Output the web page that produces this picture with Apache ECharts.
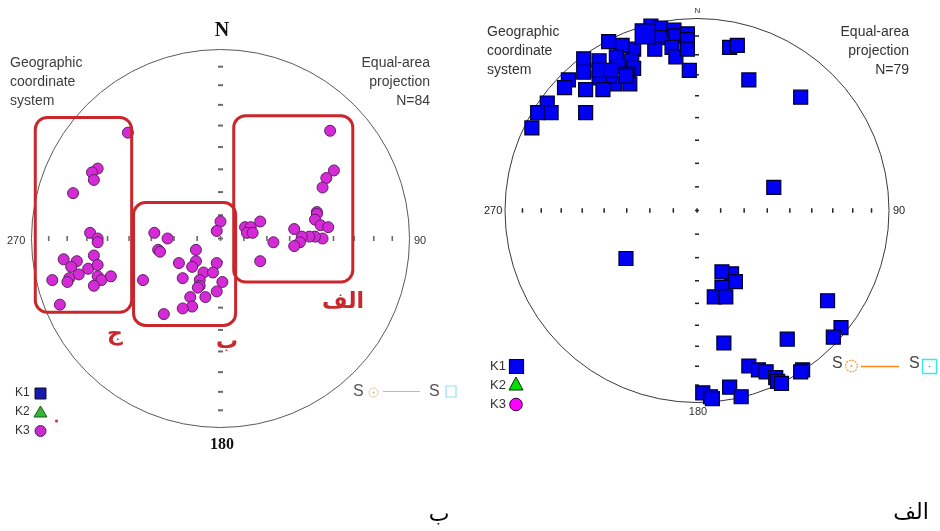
<!DOCTYPE html>
<html>
<head>
<meta charset="utf-8">
<script src="https://cdn.jsdelivr.net/npm/echarts@6/dist/echarts.min.js"></script>
<style>
  html, body { margin: 0; padding: 0; background: #fff; }
  #chart { width: 940px; height: 531px; }
</style>
</head>
<body>
<div id="chart"></div>
<script>
// Stereonet positions: [east, north] in percent of the net radius (equal-area, lower hemisphere)

// Left net, K3 axes, grouped as framed
const k3GroupAlef = [
  [58,57],[60,36],[56,32],[54,27],[51,14],[51,13],[50,10],[53,7],[57,6],[54,0],[50,1],[47,1],
  [43,1],[42,-2],[39,-4],[39,5],[28,-2],[21,9],[13,6],[16,6],[14,3],[17,3],[21,-12]
];
const k3GroupBe = [
  [0,9],[-2,4],[-35,3],[-28,0],[-33,-6],[-32,-7],[-13,-6],[-13,-12],[-22,-13],[-15,-15],[-2,-13],
  [-9,-18],[-4,-18],[-20,-21],[-11,-22],[-11,-25],[-12,-26],[1,-23],[-41,-22],[-2,-28],[-8,-31],
  [-16,-31],[-15,-36],[-20,-37],[-30,-40]
];
const k3GroupJim = [
  [-49,56],[-65,37],[-68,35],[-67,31],[-78,24],[-69,3],[-65,0],[-65,-2],[-83,-11],[-76,-12],
  [-67,-9],[-79,-15],[-70,-16],[-65,-14],[-75,-19],[-80,-21],[-81,-23],[-65,-20],[-63,-22],
  [-58,-20],[-89,-22],[-67,-25],[-85,-35]
];

// Group frames: [eastMin, northMin, eastMax, northMax]
const groupFrames = [
  [7, -23, 70, 65],
  [-46, -46, 8, 19],
  [-98, -39, -47, 64]
];

// Right net, K1 axes
const k1North = [
  [-24,96],[-19,95],[-18,90],[-12,94],[-11,91],[-5,92],[-5,89],[-13,85],[-11,80],[-5,84],[-4,73],
  [-22,84],[-33,84],[-39,86],[-46,88],[-42,80],[-34,78],[-33,74],[-41,75],[-36,71],[-35,66],
  [-43,66],[-46,70],[-51,69],[-49,63],[-51,78],[-51,73],[-59,79],[-59,72],[-58,63],[-67,68],
  [-69,64],[-78,56],[-83,51],[-76,51],[-58,51],[-86,43],[-45,73],[-37,70],
  [17,85],[21,86],[27,68],[54,59],[40,12]
];
const k1NorthLarge = [[-27,92]];
const k1South = [
  [-37,-25],[18,-33],[13,-32],[20,-37],[13,-40],[9,-45],[15,-45],[68,-47],[75,-61],[71,-66],
  [47,-67],[14,-69],[27,-81],[32,-83],[36,-84],[41,-87],[42,-89],[44,-90],[55,-83],[54,-84],
  [17,-92],[3,-95],[7,-97],[8,-98],[23,-97]
];

// Graduation of the two diameters, plunge in degrees
const tickPlunges = [10, 20, 30, 40, 50, 60, 70, 80];

const equalArea = p => 100 * Math.SQRT2 * Math.sin((90 - p) / 2 * Math.PI / 180);
const tickRadii = tickPlunges.map(equalArea);
const nsTicks = [[0, 0]].concat(tickRadii.flatMap(r => [[0, r], [0, -r]]));
const ewTicks = [[0, 0]].concat(tickRadii.flatMap(r => [[r, 0], [-r, 0]]));

const nets = [
  { cx: 220.5, cy: 238.5, r: 189 },
  { cx: 697, cy: 210.5, r: 192 }
];

const chart = echarts.init(document.getElementById('chart'), null, { renderer: 'canvas' });

const sans = '"Liberation Sans", Arial, sans-serif';
const serif = '"Liberation Serif", "Times New Roman", serif';
const arabic = '"DejaVu Sans", sans-serif';

function tickSeries(grid, data, size, color) {
  return {
    type: 'scatter', xAxisIndex: grid, yAxisIndex: grid, data: data,
    symbol: 'rect', symbolSize: size, silent: true, z: 2,
    itemStyle: { color: color, opacity: 1 }
  };
}

function k3Series(data) {
  return {
    type: 'scatter', name: 'K3', xAxisIndex: 0, yAxisIndex: 0, data: data,
    symbol: 'circle', symbolSize: 11, z: 4,
    itemStyle: { color: '#d42bd6', borderColor: '#5e1f66', borderWidth: 1, opacity: 1 }
  };
}

function k1Series(data, size) {
  return {
    type: 'scatter', name: 'K1', xAxisIndex: 1, yAxisIndex: 1, data: data,
    symbol: 'rect', symbolSize: size, z: 4,
    itemStyle: { color: '#0000f5', borderColor: '#00002a', borderWidth: 1.2, opacity: 1 }
  };
}

const text = (x, y, str, font, fill, align, extra) => Object.assign({
  type: 'text', x: x, y: y, silent: true, z: 20,
  style: { text: str, font: font, fill: fill, align: align || 'left', verticalAlign: 'middle' }
}, extra || {});

const block = (x, y, str, fill, align) => ({
  type: 'text', x: x, y: y, silent: true, z: 20,
  style: { text: str, font: '14px ' + sans, fill: fill, lineHeight: 19, align: align, verticalAlign: 'top' }
});

chart.setOption({
  animation: false,
  backgroundColor: '#ffffff',
  grid: nets.map(n => ({ left: n.cx - n.r, top: n.cy - n.r, width: 2 * n.r, height: 2 * n.r })),
  xAxis: nets.map((n, i) => ({ type: 'value', gridIndex: i, min: -100, max: 100, show: false })),
  yAxis: nets.map((n, i) => ({ type: 'value', gridIndex: i, min: -100, max: 100, show: false })),
  polar: nets.map(n => ({ center: [n.cx, n.cy], radius: n.r })),
  angleAxis: nets.map((n, i) => ({
    polarIndex: i, min: 0, max: 360, startAngle: 90,
    axisLine: { show: true, lineStyle: { color: i === 0 ? '#5a5a5a' : '#3a3a3a', width: 1 } },
    axisTick: { show: false }, axisLabel: { show: false }, splitLine: { show: false }
  })),
  radiusAxis: nets.map((n, i) => ({ polarIndex: i, min: 0, max: 1, show: false })),
  series: [
    tickSeries(0, nsTicks, [5, 2], '#6a6a6a'),
    tickSeries(0, ewTicks, [1.6, 5], '#6a6a6a'),
    tickSeries(1, nsTicks, [4, 1.5], '#222'),
    tickSeries(1, ewTicks, [1.5, 4.5], '#222'),
    k3Series(k3GroupAlef),
    k3Series(k3GroupBe),
    k3Series(k3GroupJim),
    {
      type: 'custom', xAxisIndex: 0, yAxisIndex: 0, data: groupFrames, z: 6, silent: true,
      encode: { x: [0, 2], y: [1, 3] },
      renderItem: function (params, api) {
        const tl = api.coord([api.value(0), api.value(3)]);
        const br = api.coord([api.value(2), api.value(1)]);
        return {
          type: 'rect',
          shape: { x: tl[0], y: tl[1], width: br[0] - tl[0], height: br[1] - tl[1], r: 12 },
          style: { fill: 'none', stroke: '#c9272c', lineWidth: 3 }
        };
      }
    },
    k1Series(k1North, 14),
    k1Series(k1South, 14),
    k1Series(k1NorthLarge, 20)
  ],
  graphic: [
    // left net labels
    text(222, 31, 'N', 'bold 20px ' + serif, '#111', 'center'),
    text(222, 445, '180', 'bold 16px ' + serif, '#111', 'center'),
    text(7, 241, '270', '11px ' + sans, '#333'),
    text(414, 241, '90', '11px ' + sans, '#333'),
    block(10, 54, 'Geographic\ncoordinate\nsystem', '#3c3c3c', 'left'),
    block(430, 54, 'Equal-area\nprojection\nN=84', '#3c3c3c', 'right'),
    text(343, 302, 'الف', 'bold 22px ' + arabic, '#c9272c', 'center'),
    text(115, 334, 'ج', 'bold 22px ' + arabic, '#c9272c', 'center'),
    text(227, 342, 'ب', 'bold 22px ' + arabic, '#c9272c', 'center'),

    // left legend
    text(15, 393, 'K1', '12px ' + sans, '#333'),
    { type: 'rect', shape: { x: 35, y: 388, width: 11, height: 11 }, style: { fill: '#1818b0', stroke: '#111', lineWidth: 1 }, z: 20 },
    text(15, 412, 'K2', '12px ' + sans, '#333'),
    { type: 'polygon', shape: { points: [[34, 417], [47, 417], [40.5, 406]] }, style: { fill: '#35b535', stroke: '#225522', lineWidth: 1 }, z: 20 },
    text(15, 431, 'K3', '12px ' + sans, '#333'),
    { type: 'circle', shape: { cx: 40.5, cy: 431, r: 5.5 }, style: { fill: '#c82ccc', stroke: '#5e1f66', lineWidth: 1 }, z: 20 },
    { type: 'circle', shape: { cx: 56.5, cy: 421, r: 1.6 }, style: { fill: '#d03030' }, z: 20 },
    text(353, 392, 'S', '16px ' + sans, '#555'),
    { type: 'circle', shape: { cx: 373.5, cy: 392.5, r: 4.5 }, style: { fill: '#fff', stroke: '#e2cc96', lineWidth: 1 }, z: 20 },
    { type: 'circle', shape: { cx: 373.5, cy: 392.5, r: 0.9 }, style: { fill: '#c8a860' }, z: 20 },
    { type: 'line', shape: { x1: 383, y1: 391.5, x2: 420, y2: 391.5 }, style: { stroke: '#cbbb7c', lineWidth: 1.2 }, z: 20 },
    text(429, 392, 'S', '16px ' + sans, '#555'),
    { type: 'rect', shape: { x: 446, y: 386, width: 10, height: 11 }, style: { fill: '#fff', stroke: '#92e0ea', lineWidth: 1.2 }, z: 20 },

    // right net labels
    text(697.5, 11, 'N', '8px ' + sans, '#333', 'center'),
    text(698, 412, '180', '11px ' + sans, '#333', 'center'),
    text(484, 211, '270', '11px ' + sans, '#222'),
    text(893, 211, '90', '11px ' + sans, '#222'),
    block(487, 23, 'Geographic\ncoordinate\nsystem', '#333', 'left'),
    block(909, 23, 'Equal-area\nprojection\nN=79', '#333', 'right'),

    // right legend
    text(490, 366, 'K1', '13px ' + sans, '#333'),
    { type: 'rect', shape: { x: 509.5, y: 359.5, width: 14, height: 14 }, style: { fill: '#0000f5', stroke: '#00002a', lineWidth: 1.2 }, z: 20 },
    text(490, 385, 'K2', '13px ' + sans, '#333'),
    { type: 'polygon', shape: { points: [[509, 390], [523, 390], [516, 377]] }, style: { fill: '#00e000', stroke: '#003300', lineWidth: 1 }, z: 20 },
    text(490, 404, 'K3', '13px ' + sans, '#333'),
    { type: 'circle', shape: { cx: 516, cy: 404.5, r: 6.3 }, style: { fill: '#ff00ff', stroke: '#330033', lineWidth: 1 }, z: 20 },
    text(832, 364, 'S', '16px ' + sans, '#444'),
    { type: 'circle', shape: { cx: 851.5, cy: 366, r: 5.8 }, style: { fill: '#fff', stroke: '#ff9a3c', lineWidth: 1.2, lineDash: [2, 1] }, z: 20 },
    { type: 'circle', shape: { cx: 851.5, cy: 366, r: 0.9 }, style: { fill: '#ff8c1a' }, z: 20 },
    { type: 'line', shape: { x1: 861, y1: 366.5, x2: 899, y2: 366.5 }, style: { stroke: '#ff8c1a', lineWidth: 1.5 }, z: 20 },
    text(909, 364, 'S', '16px ' + sans, '#444'),
    { type: 'rect', shape: { x: 922.5, y: 359.5, width: 14, height: 14 }, style: { fill: '#fff', stroke: '#33e8f2', lineWidth: 1.4 }, z: 20 },
    { type: 'circle', shape: { cx: 929.5, cy: 366.5, r: 0.8 }, style: { fill: '#1aa8b0' }, z: 20 },

    // panel captions
    text(911, 513, 'الف', '22px ' + arabic, '#000', 'center'),
    text(439, 515, 'ب', '22px ' + arabic, '#000', 'center')
  ]
});
</script>
</body>
</html>
